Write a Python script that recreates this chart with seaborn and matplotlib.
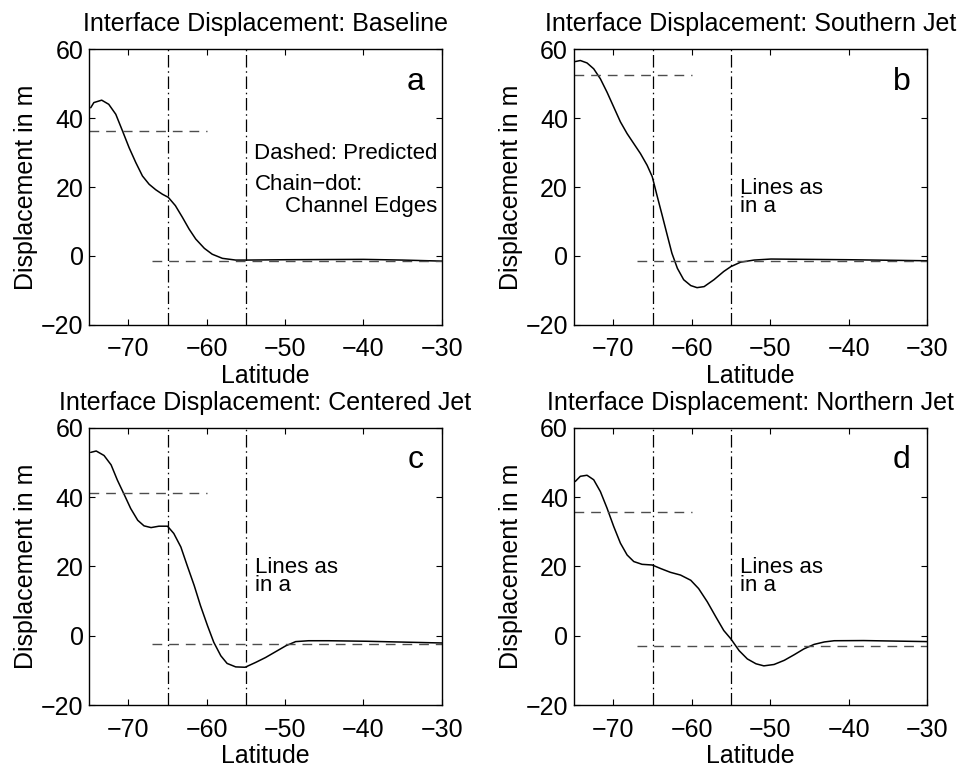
import numpy as np
import pandas as pd
import matplotlib
matplotlib.use("Agg")
import matplotlib.pyplot as plt
import seaborn as sns

# latitude / displacement
lat_a = [-74.8, -74.4, -73.4, -72.5, -71.6, -70.75, -69.9, -69.05, -68.2, -67.35,
         -66.5, -65.65, -64.9, -64.0, -63.1, -62.25, -61.4, -60.3, -59.3, -58.0,
         -56.3, -55.0, -50.0, -40.0, -35.0, -30.0]
disp_a = [43.0, 44.5, 45.2, 44.0, 41.1, 36.3, 31.4, 27.1, 23.2, 20.8,
          19.2, 17.9, 17.0, 14.6, 11.2, 7.8, 4.9, 2.2, 0.5, -0.7,
          -1.2, -1.2, -1.1, -1.0, -1.2, -1.5]

lat_b = [-74.8, -74.15, -73.3, -72.45, -71.6, -70.75, -69.9, -69.05, -68.2, -67.35,
         -66.5, -65.65, -65.0, -64.4, -63.75, -63.1, -62.5, -61.8, -61.0, -60.1,
         -59.3, -58.4, -57.15, -55.9, -55.0, -53.75, -52.05, -49.9, -40.0, -30.0]
disp_b = [56.4, 56.7, 56.0, 54.3, 51.4, 47.5, 43.2, 38.9, 35.5, 32.6,
          29.7, 26.3, 23.0, 17.6, 11.9, 6.1, 0.8, -3.6, -6.9, -8.6,
          -9.2, -8.9, -6.9, -4.5, -3.1, -1.8, -1.2, -0.9, -1.1, -1.4]

lat_c = [-74.8, -74.1, -73.1, -72.2, -71.4, -70.5, -69.7, -68.8, -68.0, -67.1,
         -66.1, -65.0, -64.2, -63.3, -62.5, -61.6, -60.8, -59.9, -59.1, -58.2,
         -57.4, -56.3, -55.1, -53.75, -52.5, -51.2, -49.9, -48.65, -47.0, -44.4,
         -39.6, -30.0]
disp_c = [52.9, 53.3, 52.0, 49.3, 44.9, 40.6, 36.7, 33.3, 31.7, 31.2,
          31.6, 31.6, 29.5, 25.6, 20.3, 14.5, 8.7, 2.9, -1.9, -5.8,
          -8.0, -9.0, -9.1, -7.7, -6.3, -4.6, -2.9, -1.7, -1.45, -1.45,
          -1.6, -2.1]

lat_d = [-74.8, -74.15, -73.3, -72.45, -71.6, -70.75, -69.9, -69.05, -68.2, -67.35,
         -66.3, -65.0, -63.95, -62.7, -61.4, -60.1, -59.1, -58.0, -56.9, -55.9,
         -55.0, -53.95, -52.9, -51.8, -50.8, -49.5, -48.2, -46.95, -45.7, -44.4,
         -43.1, -41.85, -38.1, -30.0]
disp_d = [44.5, 46.0, 46.3, 45.0, 41.6, 36.8, 31.5, 26.7, 23.3, 21.4,
          20.6, 20.4, 19.4, 18.3, 17.5, 16.0, 13.6, 9.8, 5.4, 1.5,
          -0.9, -4.3, -6.7, -8.1, -8.7, -8.3, -7.1, -5.5, -3.8, -2.5,
          -1.8, -1.45, -1.4, -1.7]

titles = ["Interface Displacement: Baseline",
          "Interface Displacement: Southern Jet",
          "Interface Displacement: Centered Jet",
          "Interface Displacement: Northern Jet"]
letters = ["a", "b", "c", "d"]

# predicted levels (upper: south of channel, lower: north of channel)
pred_upper = [36.2, 52.6, 41.1, 35.8]
pred_lower = [-1.6, -1.5, -2.4, -3.1]
upper_span = [-75, -60]
lower_span = [-67, -30]

# channel edges
edges = [-64.9, -55.0]

sns.set_style("ticks")
plt.rcParams["font.family"] = ["Liberation Sans", "DejaVu Sans"]
plt.rcParams["axes.unicode_minus"] = True
for key in ["text.color", "axes.labelcolor", "xtick.color", "ytick.color",
            "axes.edgecolor"]:
    plt.rcParams[key] = "black"

fig = plt.figure(figsize=(9.69, 7.68), dpi=100)

positions = [
    [0.092, 0.577, 0.364, 0.359],
    [0.592, 0.577, 0.365, 0.359],
    [0.092, 0.082, 0.364, 0.361],
    [0.592, 0.082, 0.365, 0.361],
]

lats = [lat_a, lat_b, lat_c, lat_d]
disps = [disp_a, disp_b, disp_c, disp_d]

for k in range(4):

    ax = fig.add_axes(positions[k])

    frame = pd.DataFrame({"Latitude": lats[k], "Displacement": disps[k]})

    sns.lineplot(
        data=frame,
        x="Latitude",
        y="Displacement",
        color="black",
        linewidth=1.1,
        ax=ax
    )

    for e in edges:
        ax.axvline(e, color="black", linewidth=0.9,
                   linestyle=(0, (10, 3, 1.2, 3)))

    ax.plot(upper_span, [pred_upper[k]] * 2, color="0.3",
            linewidth=1.0, linestyle=(0, (7, 5)))
    ax.plot(lower_span, [pred_lower[k]] * 2, color="0.3",
            linewidth=1.0, linestyle=(0, (7, 5)))

    ax.set_xlim(-75, -30)
    ax.set_ylim(-20, 60)
    ax.set_xticks([-70, -60, -50, -40, -30])
    ax.set_yticks([-20, 0, 20, 40, 60])

    ax.tick_params(direction="in", top=True, right=True, length=4,
                   width=0.8, labelsize=18)
    ax.tick_params(axis="x", pad=9)
    ax.tick_params(axis="y", pad=4)
    for sp in ax.spines.values():
        sp.set_linewidth(1.0)

    ax.set_xlabel("Latitude", fontsize=18, labelpad=2)
    ax.set_ylabel("Displacement in m", fontsize=18, labelpad=2)
    ax.set_title(titles[k], fontsize=18, pad=13)

    ax.text(-33.3, 50.6, letters[k], fontsize=23, ha="center", va="center")

    if k == 0:
        ax.text(-30.6, 29.7, "Dashed: Predicted", fontsize=16,
                ha="right", va="center")
        ax.text(-53.9, 20.6, "Chain\u2212dot:", fontsize=16,
                ha="left", va="center")
        ax.text(-30.6, 14.4, "Channel Edges", fontsize=16,
                ha="right", va="center")
    else:
        ax.text(-53.8, 17.0, "Lines as\nin a", fontsize=16, ha="left",
                va="center", linespacing=0.8)

fig.savefig("out.png", dpi=100)
